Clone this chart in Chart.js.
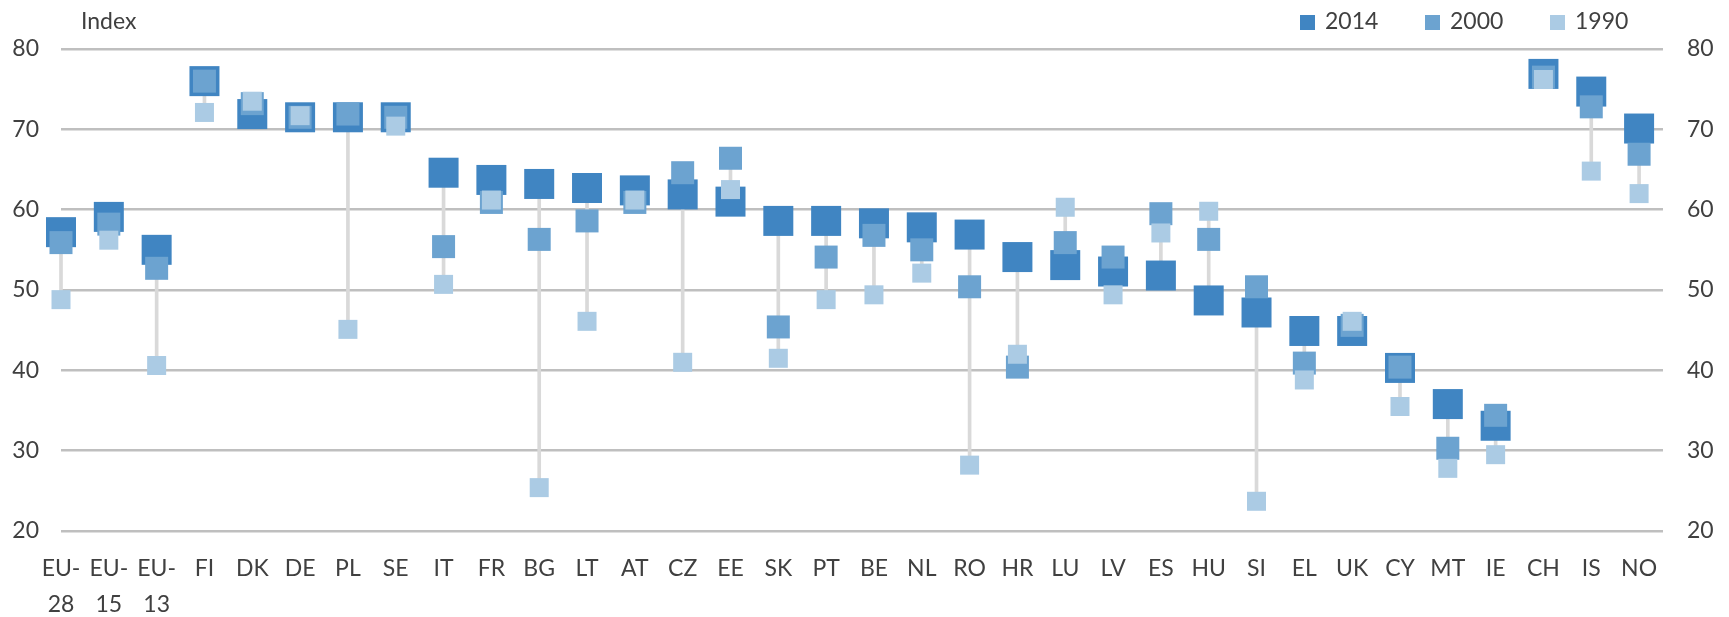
<!DOCTYPE html>
<html>
<head>
<meta charset="utf-8">
<script src="https://cdn.jsdelivr.net/npm/chart.js@4/dist/chart.umd.min.js"></script>
<style>
  body { margin: 0; background: #fff; }
  #wrap { position: relative; width: 1729px; height: 617px; font-family: Lato, sans-serif; color: #404040; }
  #unit { position: absolute; left: 81px; top: 9px; font-size: 23px; line-height: 23px; }
  #legend { position: absolute; left: 1300px; top: 9px; font-size: 23px; line-height: 23px; white-space: nowrap; }
  #legend span.item { display: inline-block; width: 125px; }
  #legend span.box { display: inline-block; width: 15px; height: 15px; margin-right: 10px; vertical-align: -1px; }
</style>
</head>
<body>
<div id="wrap">
  <canvas id="chart"></canvas>
  <div id="unit">Index</div>
  <div id="legend"></div>
</div>
<script>
const categories = ['EU-28', 'EU-15', 'EU-13', 'FI', 'DK', 'DE', 'PL', 'SE', 'IT', 'FR', 'BG', 'LT', 'AT', 'CZ', 'EE', 'SK', 'PT', 'BE', 'NL', 'RO', 'HR', 'LU', 'LV', 'ES', 'HU', 'SI', 'EL', 'UK', 'CY', 'MT', 'IE', 'CH', 'IS', 'NO'];
const v2014 = [57.2, 59.1, 55.0, 76.0, 71.9, 71.5, 71.5, 71.5, 64.6, 63.7, 63.2, 62.7, 62.4, 61.9, 61.0, 58.6, 58.6, 58.3, 57.8, 56.9, 54.1, 53.1, 52.3, 51.8, 48.7, 47.2, 44.9, 44.9, 40.3, 35.8, 33.1, 76.9, 74.7, 70.1];
const v2000 = [55.9, 58.2, 52.7, 76.0, 73.2, 71.5, 71.9, 71.5, 55.4, 60.9, 56.3, 58.6, 60.9, 64.6, 66.4, 45.4, 54.1, 56.8, 55.0, 50.4, 40.4, 55.9, 54.1, 59.5, 56.3, 50.4, 40.9, 45.6, 40.4, 30.3, 34.4, 76.5, 72.8, 66.9];
const v1990 = [48.8, 56.2, 40.6, 72.1, 73.5, 71.7, 45.1, 70.4, 50.7, 61.2, 25.4, 46.1, 61.2, 41.0, 62.5, 41.5, 48.8, 49.4, 52.1, 28.2, 42.0, 60.3, 49.4, 57.1, 59.8, 23.7, 38.8, 46.1, 35.5, 27.8, 29.5, 76.2, 64.8, 62.0];
const yTicks = [20, 30, 40, 50, 60, 70, 80];

const series = [
    { label: '2014', values: v2014, color: '#4085c2', side: 30, order: 3 },
    { label: '2000', values: v2000, color: '#6ca3d0', side: 23, order: 2 },
    { label: '1990', values: v1990, color: '#abcbe4', side: 19, order: 1 },
];

const textColor = '#404040';
const font = { family: 'Lato', size: 23 };

// high-low line behind the markers
const ranges = categories.map((c, i) => {
    const vals = [v2014[i], v2000[i], v1990[i]];
    return { x: i, y: [Math.min(...vals), Math.max(...vals)] };
});

const datasets = [{
    type: 'bar',
    label: 'range',
    data: ranges,
    backgroundColor: '#d9d9d9',
    barThickness: 3,
    order: 10,
    clip: false,
}];
series.forEach(s => {
    datasets.push({
        type: 'scatter',
        label: s.label,
        data: s.values.map((v, i) => ({ x: i, y: v })),
        pointStyle: 'rect',
        pointRadius: s.side / (2 * Math.SQRT1_2),
        pointBorderWidth: 0,
        backgroundColor: s.color,
        borderColor: s.color,
        order: s.order,
        clip: false,
    });
});

const yAxis = (pos, width, pad, showGrid) => ({
    type: 'linear',
    position: pos,
    min: 20,
    max: 80,
    afterBuildTicks: ax => { ax.ticks = yTicks.map(v => ({ value: v })); },
    afterFit: ax => { ax.width = width; },
    border: { display: false },
    grid: { display: showGrid, color: '#bfbfbf', lineWidth: 2.5, drawTicks: false },
    ticks: { color: textColor, font: font, padding: pad },
});

new Chart(document.getElementById('chart'), {
    type: 'scatter',
    data: { datasets: datasets },
    options: {
        responsive: true,
        maintainAspectRatio: false,
        animation: false,
        events: [],
        layout: { padding: { top: 49 } },
        plugins: { legend: { display: false }, tooltip: { enabled: false } },
        scales: {
            x: {
                type: 'linear',
                min: 0,
                max: 33.5,
                offset: false,
                afterBuildTicks: ax => { ax.ticks = categories.map((c, i) => ({ value: i })); },
                afterFit: ax => { ax.height = 86; },
                border: { display: false },
                grid: { display: false, drawTicks: false },
                ticks: {
                    color: textColor,
                    font: { family: 'Lato', size: 23, lineHeight: 1.55 },
                    padding: 20,
                    autoSkip: false,
                    maxRotation: 0,
                    callback: v => {
                        const c = categories[v];
                        return c.startsWith('EU-') ? ['EU-', c.slice(3)] : c;
                    },
                },
            },
            y: yAxis('left', 61, 22, true),
            y2: yAxis('right', 66, 24, false),
        },
    },
});

const legend = document.getElementById('legend');
series.forEach(s => {
    const item = document.createElement('span');
    item.className = 'item';
    item.innerHTML = '<span class="box" style="background:' + s.color + '"></span>' + s.label;
    legend.appendChild(item);
});
</script>
</body>
</html>
